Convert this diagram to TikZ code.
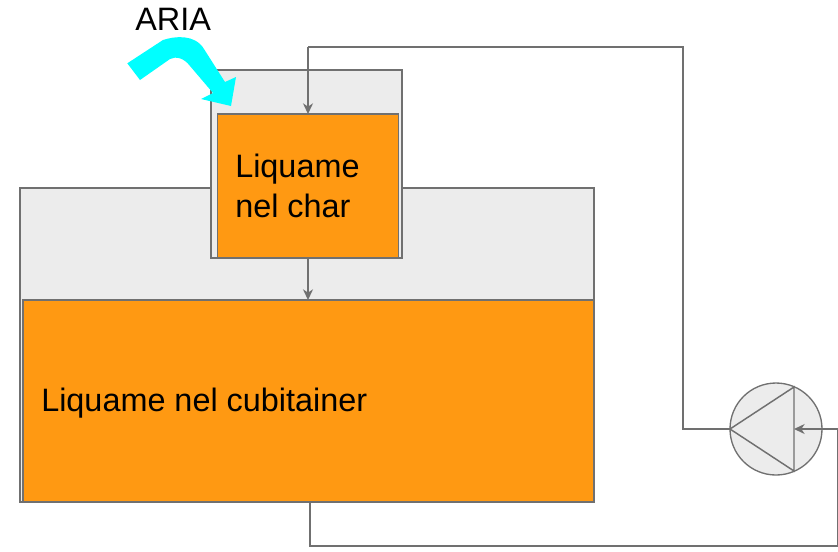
\documentclass[tikz,border=0pt]{standalone}
\usepackage{fontspec}
\setmainfont{Liberation Sans}
\usepackage{xcolor}
\usetikzlibrary{arrows.meta,calc}
\definecolor{liquame}{RGB}{255,153,18}
\definecolor{vuoto}{RGB}{236,236,236}
\definecolor{tubo}{RGB}{112,112,112}
\definecolor{aria}{RGB}{0,255,255}
\tikzset{
  box/.style={draw=tubo,line width=1.1pt,inner sep=0pt,outer sep=0pt,anchor=north west},
  testo/.style={inner sep=0pt,anchor=base west,align=left,font=\fontsize{24.3}{30}\selectfont},
  tubazione/.style={draw=tubo,line width=1.1pt}
}

\begin{document}
\begin{tikzpicture}[x=0.75pt,y=-0.75pt,>={Stealth[length=8pt,width=7.5pt,inset=2.5pt]},line join=miter]
  \useasboundingbox (0,0) rectangle (838,551);
  % serbatoi
  \node[box,fill=vuoto,minimum width=430.5pt,minimum height=235.5pt] (tank) at (20,188) {};
  \node[box,fill=liquame,minimum width=428.25pt,minimum height=151.5pt] (cubi) at (23,300) {};
  \node[box,fill=vuoto,minimum width=143.25pt,minimum height=141pt] (charout) at (211,70) {};
  \node[box,fill=liquame,minimum width=135.75pt,minimum height=108pt] (charin) at (217.5,114) {};
  % pompa
  \node[circle,draw=tubo,fill=vuoto,line width=1pt,minimum size=69pt,inner sep=0pt,outer sep=0pt] (pump) at (776,429) {};
  \coordinate (PT) at (794,387);
  \coordinate (PB) at (794,471);
  \coordinate (PM) at (794,429);
  \draw[tubazione] (pump.west) -- (PT) -- (PB) -- cycle;
  % tubi
  \coordinate (R1) at (683,429);
  \coordinate (R2) at (683,47);
  \coordinate (R3) at (308,47);
  \coordinate (S0) at (310,502);
  \coordinate (S1) at (310,546);
  \coordinate (S2) at (838,546);
  \coordinate (S3) at (838,429);
  \draw[tubazione] (pump.west) -- (R1) -- (R2) -- (R3);
  \draw[tubazione,->] (R3) -- (R3 |- charin.north);
  \draw[tubazione,->] (charin.south) -- (charin.south |- cubi.north);
  \draw[tubazione,line width=0.9pt] (S0) -- (S1) -- (S2) -- (S3);
  \draw[tubazione,->] (S3) -- (PM);
  % aria
  \fill[aria] (127.3,63.3) -- (163,40) .. controls (175,36) and (195,34) .. (204,49)
    -- (225,82) -- (236,77) -- (231,106) -- (201,99) -- (213,93) -- (190,66)
    .. controls (184,58) and (176,56) .. (170,59) -- (140,80) -- cycle;
  % testi
  \node[testo] (ariatxt) at (135,30) {ARIA};
  \node[testo] (chartxt) at (235,177) {Liquame};
  \node[testo] (chartxtb) at (235,217) {nel char};
  \node[testo] (cubitxt) at (41,411) {Liquame nel cubitainer};
\end{tikzpicture}
\end{document}
